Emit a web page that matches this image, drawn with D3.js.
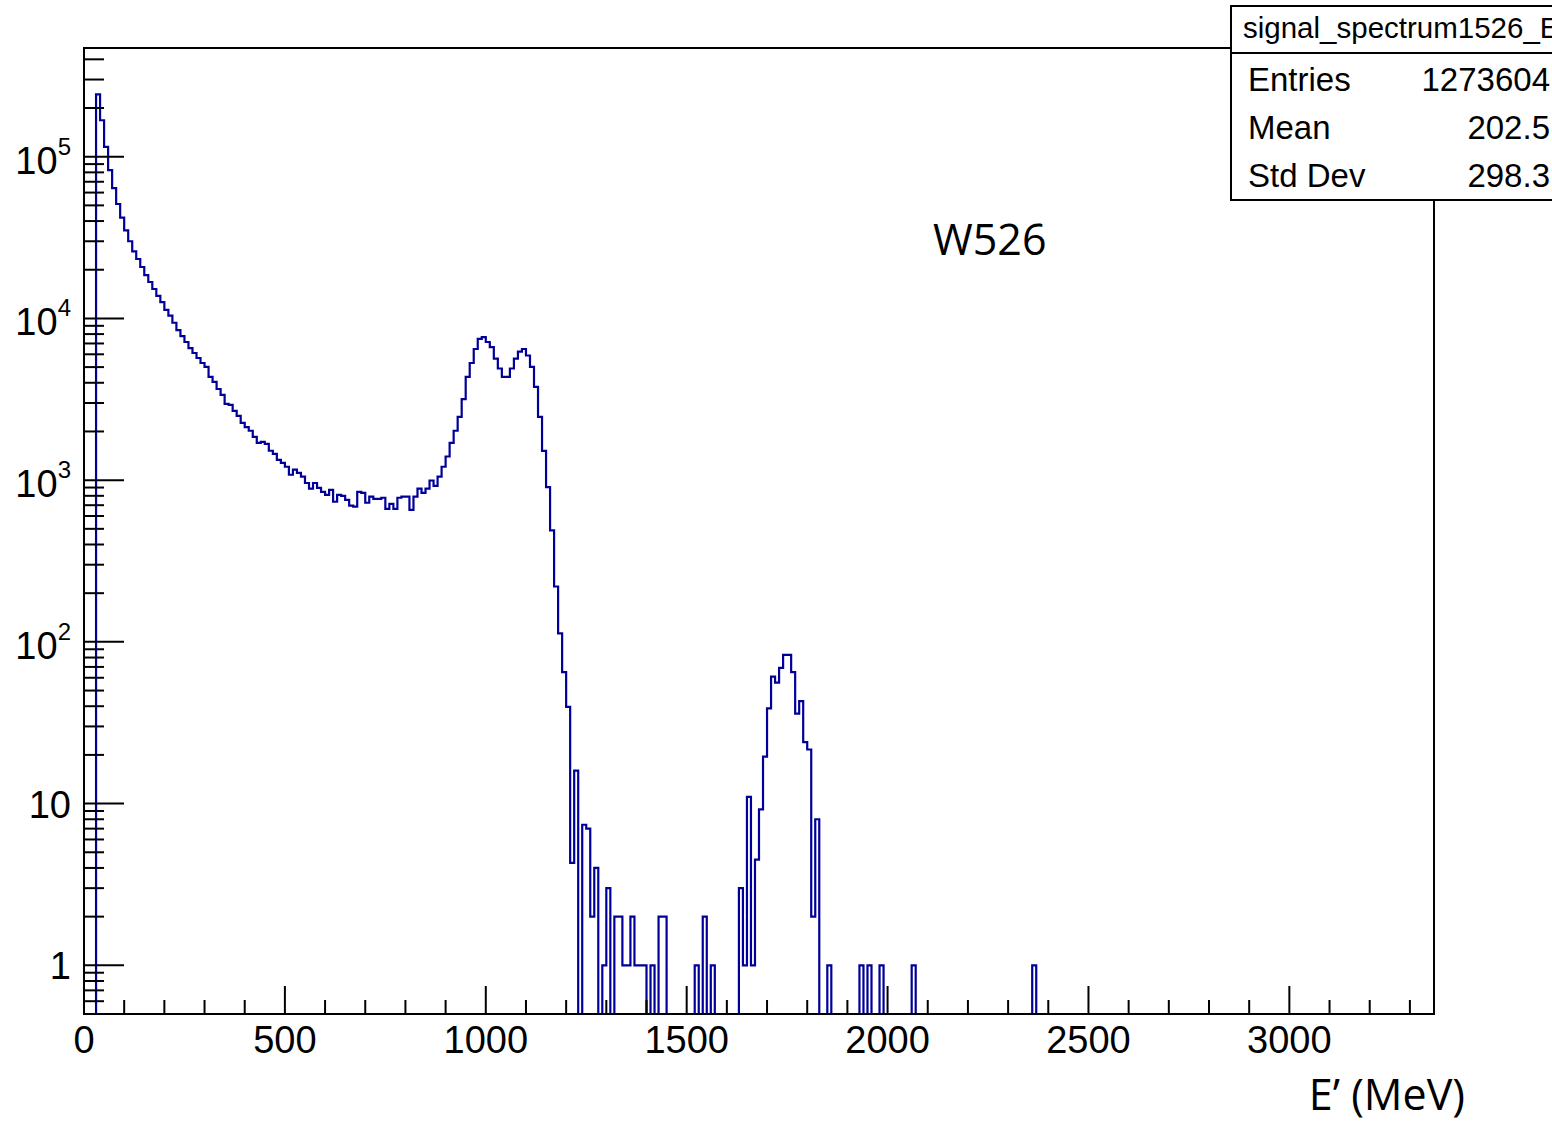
<!DOCTYPE html>
<html>
<head>
<meta charset="utf-8">
<script src="https://cdn.jsdelivr.net/npm/d3@7"></script>
<style>
  body { margin: 0; background: #fff; }
  svg { display: block; }
</style>
</head>
<body>
<div id="chart"></div>
<script>
const width = 1552;
const height = 1122;

// histogram binning (MeV)
const binLow = 0;
const binWidth = 10;
const xRange = [0, 3360];
const yRange = [0.5, 4.7e5];

// bin contents, bin 0 = [0,10) MeV ... bin 236 = [2360,2370); the rest is empty
const counts = [
    0, 0, 0, 243000, 168000, 115000, 82600, 64000, 51000, 42000,
    35000, 30000, 26000, 23300, 20800, 18500, 16800, 15200, 13800, 12600,
    11300, 10400, 9400, 8470, 7780, 7150, 6560, 6110, 5690, 5300,
    5010, 4350, 4050, 3660, 3370, 2960, 2920, 2680, 2500, 2260,
    2130, 2020, 1850, 1700, 1725, 1675, 1520, 1455, 1335, 1280,
    1210, 1080, 1160, 1110, 1050, 960, 885, 960, 895, 845,
    810, 870, 735, 810, 800, 755, 695, 685, 845, 835,
    725, 790, 765, 765, 778, 665, 714, 665, 778, 790,
    790, 655, 790, 885, 835, 885, 995, 922, 1050, 1210,
    1400, 1700, 2020, 2460, 3170, 4350, 5300, 6470, 7470, 7670,
    7150, 6650, 5640, 4900, 4350, 4350, 4900, 5640, 6230, 6470,
    5900, 5010, 3770, 2460, 1518, 905, 489, 220, 113, 65,
    39.6, 4.3, 16, 0, 7.4, 7, 2, 4, 0, 1,
    3, 0, 2, 2, 1, 1, 2, 1, 1, 1,
    0, 1, 0, 2, 2, 0, 0, 0, 0, 0,
    0, 0, 1, 0, 2, 0, 1, 0, 0, 0,
    0, 0, 0, 3, 1, 11, 1, 4.5, 9.2, 19.5,
    38.8, 61, 56, 69, 83, 83, 65, 36, 43, 24,
    21.6, 2, 8, 0, 0, 1, 0, 0, 0, 0,
    0, 0, 0, 1, 0, 1, 0, 0, 1, 0,
    0, 0, 0, 0, 0, 0, 1, 0, 0, 0,
    0, 0, 0, 0, 0, 0, 0, 0, 0, 0,
    0, 0, 0, 0, 0, 0, 0, 0, 0, 0,
    0, 0, 0, 0, 0, 0, 1
];

const xMajorTicks = [0, 500, 1000, 1500, 2000, 2500, 3000];
const yMajorTicks = [1, 10, 100, 1000, 10000, 100000];
const yTickLabels = [["1", ""], ["10", ""], ["10", "2"], ["10", "3"], ["10", "4"], ["10", "5"]];

const histName = "signal_spectrum1526_E";
const statsRows = [["Entries", "1273604"], ["Mean", "202.5"], ["Std Dev", "298.3"]];
const plotLabel = "W526";
const xTitle = "E\u2019 (MeV)";

const frame = { left: 84, right: 1434, top: 48, bottom: 1014 };
const rootFont = "'Liberation Sans', Arial, Helvetica, sans-serif";
const textFont = "'Open Sans', 'Noto Sans', sans-serif";
const histColor = "#000099";

const svg = d3.select("#chart")
    .append("svg")
    .attr("width", width)
    .attr("height", height);

const x = d3.scaleLinear()
    .domain(xRange)
    .range([frame.left, frame.right]);

const y = d3.scaleLog()
    .domain(yRange)
    .range([frame.bottom, frame.top])
    .clamp(true);

svg.append("clipPath")
    .attr("id", "frameClip")
    .append("rect")
    .attr("x", frame.left)
    .attr("y", frame.top)
    .attr("width", frame.right - frame.left)
    .attr("height", frame.bottom - frame.top);

// step outline, empty bins drop to the frame bottom like ROOT does on log scale
const steps = counts.map((c, i) => ({ e: binLow + i * binWidth, c: c }));
steps.push({ e: binLow + counts.length * binWidth, c: 0 });
steps.push({ e: xRange[1], c: 0 });

const line = d3.line()
    .x(d => x(d.e))
    .y(d => d.c > 0 ? y(d.c) : frame.bottom)
    .curve(d3.curveStepAfter);

svg.append("path")
    .datum(steps)
    .attr("clip-path", "url(#frameClip)")
    .attr("fill", "none")
    .attr("stroke", histColor)
    .attr("stroke-width", 2.2)
    .attr("d", line);

// x ticks: major every 500, minor every 100, drawn inside the frame
const xMinor = d3.range(xRange[0], xRange[1] + 1, 100);
svg.append("g")
    .selectAll("line")
    .data(xMinor)
    .join("line")
    .attr("x1", d => x(d))
    .attr("x2", d => x(d))
    .attr("y1", frame.bottom)
    .attr("y2", d => xMajorTicks.includes(d) ? frame.bottom - 28 : frame.bottom - 14)
    .attr("stroke", "#000")
    .attr("stroke-width", 2);

svg.append("g")
    .selectAll("text")
    .data(xMajorTicks)
    .join("text")
    .attr("x", d => x(d))
    .attr("y", 1053)
    .attr("text-anchor", "middle")
    .attr("font-family", rootFont)
    .attr("font-size", 38)
    .text(d => d);

// y ticks: decades plus 2..9 subdivisions
const yMinor = [];
for (let p = -1; p <= 5; p++) {
    for (let m = 1; m <= 9; m++) {
        const v = m * Math.pow(10, p);
        if (v >= yRange[0] && v <= yRange[1]) yMinor.push(v);
    }
}
svg.append("g")
    .selectAll("line")
    .data(yMinor)
    .join("line")
    .attr("x1", frame.left)
    .attr("x2", d => yMajorTicks.includes(d) ? frame.left + 40 : frame.left + 20)
    .attr("y1", d => y(d))
    .attr("y2", d => y(d))
    .attr("stroke", "#000")
    .attr("stroke-width", 2);

const yLabels = svg.append("g")
    .selectAll("text")
    .data(yMajorTicks)
    .join("text")
    .attr("x", 71)
    .attr("y", (d, i) => y(d) + (yTickLabels[i][1] ? 17 : 14))
    .attr("text-anchor", "end")
    .attr("font-family", rootFont)
    .attr("font-size", 38);
yLabels.append("tspan").text((d, i) => yTickLabels[i][0]);
yLabels.append("tspan")
    .attr("font-size", 24)
    .attr("dy", -19)
    .text((d, i) => yTickLabels[i][1]);

svg.append("rect")
    .attr("x", frame.left)
    .attr("y", frame.top)
    .attr("width", frame.right - frame.left)
    .attr("height", frame.bottom - frame.top)
    .attr("fill", "none")
    .attr("stroke", "#000")
    .attr("stroke-width", 2);

// stats box (runs off the right edge of the canvas)
const stats = svg.append("g");
stats.append("rect")
    .attr("x", 1231)
    .attr("y", 6)
    .attr("width", 340)
    .attr("height", 194)
    .attr("fill", "#fff")
    .attr("stroke", "#000")
    .attr("stroke-width", 2);
stats.append("line")
    .attr("x1", 1231)
    .attr("x2", 1571)
    .attr("y1", 53)
    .attr("y2", 53)
    .attr("stroke", "#000")
    .attr("stroke-width", 2);
stats.append("text")
    .attr("x", 1243)
    .attr("y", 38)
    .attr("font-family", rootFont)
    .attr("font-size", 29.5)
    .text(histName);
statsRows.forEach((r, i) => {
    stats.append("text")
        .attr("x", 1248)
        .attr("y", 91 + i * 48)
        .attr("font-family", rootFont)
        .attr("font-size", 33)
        .text(r[0]);
    stats.append("text")
        .attr("x", 1550)
        .attr("y", 91 + i * 48)
        .attr("text-anchor", "end")
        .attr("font-family", rootFont)
        .attr("font-size", 33)
        .text(r[1]);
});

svg.append("text")
    .attr("x", 933)
    .attr("y", 255)
    .attr("font-family", textFont)
    .attr("font-size", 43)
    .text(plotLabel);

svg.append("text")
    .attr("x", 1465)
    .attr("y", 1110)
    .attr("text-anchor", "end")
    .attr("font-family", textFont)
    .attr("font-size", 43)
    .text(xTitle);
</script>
</body>
</html>
